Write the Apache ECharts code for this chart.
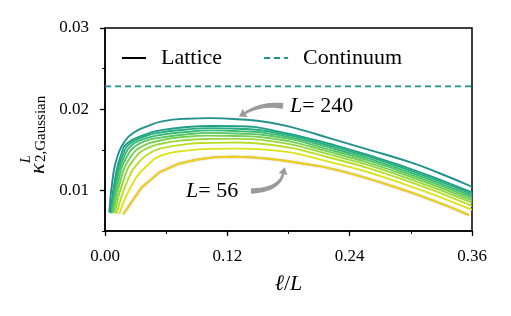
<!DOCTYPE html>
<html>
<head>
<meta charset="utf-8">
<script src="https://cdn.jsdelivr.net/npm/echarts@6/dist/echarts.min.js"></script>
<style>
  html, body { margin: 0; padding: 0; background: #fff; }
  #chart { width: 511px; height: 316px; }
</style>
</head>
<body>
<div id="chart"></div>
<script>
// kappa_2,Gaussian^L vs l/L, one array per lattice size, [l/L, value]
var kappaL56 = [[0.0179,0.00706],[0.0357,0.01033],[0.0536,0.01225],[0.0714,0.01325],[0.0893,0.01378],
    [0.1071,0.01408],[0.125,0.01415],[0.1429,0.01408],[0.1607,0.0139],[0.1786,0.01362],[0.1964,0.01325],
    [0.2143,0.0129],[0.2321,0.01238],[0.25,0.01175],[0.2679,0.01108],[0.2857,0.01036],[0.3036,0.0096],
    [0.3214,0.00878],[0.3393,0.0079],[0.3571,0.00695]];
var kappaL72 = [[0.0139,0.0071],[0.0278,0.0110],[0.0417,0.0131],[0.0556,0.0143],[0.08,0.0149],[0.103,0.01512],
    [0.13,0.01515],[0.16,0.01499],[0.22,0.01352],[0.29,0.01092],[0.36,0.0076]];
var kappaL88 = [[0.0114,0.0071],[0.0227,0.0114],[0.0341,0.0136],[0.0455,0.0147],[0.054,0.01515],[0.08,0.0157],
    [0.103,0.01585],[0.13,0.0159],[0.16,0.01566],[0.22,0.01405],[0.29,0.01144],[0.36,0.0081]];
var kappaL104 = [[0.0096,0.0072],[0.0192,0.0117],[0.0288,0.0139],[0.0385,0.0150],[0.054,0.01572],[0.08,0.0162],
    [0.103,0.01634],[0.13,0.01635],[0.16,0.0161],[0.22,0.01443],[0.29,0.0118],[0.36,0.00848]];
var kappaL120 = [[0.0083,0.0072],[0.0167,0.0119],[0.025,0.0141],[0.0333,0.0152],[0.054,0.01615],[0.08,0.0166],
    [0.103,0.01674],[0.13,0.0167],[0.16,0.01645],[0.22,0.01475],[0.29,0.01211],[0.36,0.00878]];
var kappaL136 = [[0.0074,0.0072],[0.0147,0.0120],[0.0221,0.0143],[0.0294,0.0154],[0.04,0.0161],[0.054,0.0165],
    [0.08,0.0169],[0.103,0.01708],[0.13,0.0170],[0.16,0.01676],[0.22,0.01503],[0.29,0.01238],[0.36,0.00905]];
var kappaL152 = [[0.0066,0.0072],[0.0132,0.0121],[0.0197,0.0144],[0.0263,0.0156],[0.04,0.0164],[0.054,0.01682],
    [0.08,0.0172],[0.103,0.01739],[0.13,0.0173],[0.16,0.01703],[0.22,0.01529],[0.29,0.01263],[0.36,0.0093]];
var kappaL168 = [[0.006,0.0072],[0.0119,0.0121],[0.0179,0.0145],[0.0238,0.0157],[0.04,0.0167],[0.054,0.01712],
    [0.08,0.0175],[0.103,0.01767],[0.13,0.0176],[0.16,0.01729],[0.22,0.01553],[0.29,0.01286],[0.36,0.00953]];
var kappaL184 = [[0.0054,0.0072],[0.0109,0.0122],[0.0163,0.0146],[0.0217,0.0158],[0.04,0.0169],[0.054,0.01739],
    [0.08,0.0178],[0.103,0.01793],[0.13,0.0179],[0.16,0.01752],[0.22,0.01575],[0.29,0.01308],[0.36,0.00975]];
var kappaL240 = [[0.0042,0.0073],[0.0083,0.0122],[0.0125,0.0143],[0.0186,0.01589],[0.0284,0.01712],[0.0412,0.01789],
    [0.0559,0.0185],[0.08,0.01883],[0.103,0.0189],[0.13,0.01877],[0.16,0.0184],[0.19,0.01755],[0.22,0.01644],
    [0.26,0.01497],[0.30,0.01344],[0.33,0.01202],[0.36,0.01045]];
var continuum = 0.0228;

var sizes = [56, 72, 88, 104, 120, 136, 152, 168, 184, 240];
var curves = [kappaL56, kappaL72, kappaL88, kappaL104, kappaL120, kappaL136, kappaL152, kappaL168, kappaL184, kappaL240];
var yTicks = [0.01, 0.02, 0.03];
var yMinorTicks = [0.005, 0.015, 0.025];

var palette = ['#ecd01a','#dde318','#bade28','#98d83e','#75d054','#56c667','#3bbb75','#28ae80','#1fa088','#21918c'];
var serif = '"Liberation Serif", "DejaVu Serif", serif';

// thick tapering arrow, like matplotlib's "simple" arrowstyle
function arrow(p0, c, p1, w0, w1, headW, headL) {
    var left = [], right = [], n = 16;
    function pt(t) {
        var a = 1 - t;
        return [a*a*p0[0] + 2*a*t*c[0] + t*t*p1[0], a*a*p0[1] + 2*a*t*c[1] + t*t*p1[1]];
    }
    function tan(t) {
        var dx = 2*(1-t)*(c[0]-p0[0]) + 2*t*(p1[0]-c[0]);
        var dy = 2*(1-t)*(c[1]-p0[1]) + 2*t*(p1[1]-c[1]);
        var l = Math.sqrt(dx*dx + dy*dy);
        return [dx/l, dy/l];
    }
    for (var i = 0; i <= n; i++) {
        var t = i / n, p = pt(t), d = tan(t), w = (w0 + (w1 - w0) * t) / 2;
        left.push([p[0] - d[1]*w, p[1] + d[0]*w]);
        right.push([p[0] + d[1]*w, p[1] - d[0]*w]);
    }
    var d1 = tan(1);
    var pts = left.slice();
    pts.push([p1[0] - d1[1]*headW, p1[1] + d1[0]*headW]);
    pts.push([p1[0] + d1[0]*headL, p1[1] + d1[1]*headL]);
    pts.push([p1[0] + d1[1]*headW, p1[1] - d1[0]*headW]);
    pts = pts.concat(right.reverse());
    return { type: 'polygon', shape: { points: pts }, style: { fill: '#9a9a9a' }, z: 100 };
}

var series = [{
    name: 'Lattice', type: 'line', data: [], symbol: 'none',
    lineStyle: { color: '#000', width: 1.8 }, itemStyle: { color: '#000' }
}, {
    name: 'Continuum', type: 'line', symbol: 'none',
    data: [[0, continuum], [0.36, continuum]],
    lineStyle: { color: '#21918c', width: 1.7, type: [6, 4] }, itemStyle: { color: '#21918c' }, z: 3
}];
curves.forEach(function (c, i) {
    series.push({
        name: 'L' + sizes[i], type: 'line', data: c, symbol: 'none', showSymbol: false,
        smooth: i === 0 ? false : 0.5,
        lineStyle: i === 0
            ? { color: palette[i], width: 1.9, shadowColor: 'rgba(120,95,0,0.55)', shadowBlur: 1.5 }
            : { color: palette[i], width: 1.9 },
        z: 2 + (9 - i) * 0.01
    });
});

var myChart = echarts.init(document.getElementById('chart'));
var option = {
    animation: false,
    grid: { left: 105, right: 39, top: 28, bottom: 85, show: true, borderColor: '#000', borderWidth: 1.5 },
    legend: {
        data: ['Lattice', 'Continuum'],
        left: 116, top: 42, itemWidth: 24, itemHeight: 10, itemGap: 41,
        itemStyle: { opacity: 0 },
        textStyle: { fontFamily: serif, fontSize: 22, color: '#000', padding: [0, 0, 0, 10] }
    },
    xAxis: {
        type: 'value', min: 0, max: 0.36, interval: 0.12,
        name: '{i|ℓ}/{i|L}', nameLocation: 'middle', nameGap: 42,
        nameTextStyle: { fontFamily: serif, fontSize: 22, color: '#000', rich: { i: { fontFamily: serif, fontSize: 22, fontStyle: 'italic' } } },
        axisLine: { show: true, lineStyle: { color: '#000', width: 1.5 } },
        axisTick: { show: true, length: 5, lineStyle: { color: '#000', width: 1.3 } },
        minorTick: { show: true, splitNumber: 2, length: 3, lineStyle: { color: '#000', width: 1 } },
        axisLabel: { fontFamily: serif, fontSize: 17, color: '#000', margin: 17,
            formatter: function (v) { return v.toFixed(2); } },
        splitLine: { show: false }
    },
    yAxis: [{
        type: 'value', min: 0.005, max: 0.03,
        axisLine: { show: true, lineStyle: { color: '#000', width: 1.5 } },
        axisTick: { show: true, length: 5, customValues: yTicks, lineStyle: { color: '#000', width: 1.3 } },
        axisLabel: { fontFamily: serif, fontSize: 17, color: '#000', margin: 16, customValues: yTicks,
            formatter: function (v) { return v.toFixed(2); } },
        splitLine: { show: false }
    }, {
        type: 'value', min: 0.005, max: 0.03, position: 'left',
        axisLine: { show: false },
        axisTick: { show: true, length: 3, customValues: yMinorTicks, lineStyle: { color: '#000', width: 1 } },
        axisLabel: { show: false, customValues: yMinorTicks },
        splitLine: { show: false }
    }],
    series: series,
    graphic: [
        {
            type: 'text', z: 100,
            style: { text: '{i|L}= 240', x: 290, y: 106, verticalAlign: 'middle', fontFamily: serif, fontSize: 22, fill: '#000',
                rich: { i: { fontFamily: serif, fontSize: 22, fontStyle: 'italic' } } }
        },
        {
            type: 'text', z: 100,
            style: { text: '{i|L}= 56', x: 186, y: 191, verticalAlign: 'middle', fontFamily: serif, fontSize: 22, fill: '#000',
                rich: { i: { fontFamily: serif, fontSize: 22, fontStyle: 'italic' } } }
        },
        arrow([283, 106], [262, 103], [245, 113], 6, 2.5, 4.5, 7),
        arrow([251, 191], [279, 190], [283, 174], 5.5, 2.5, 4.5, 7),
        {
            type: 'group', x: 38, y: 174, rotation: Math.PI / 2, z: 100,
            children: [
                { type: 'text', style: { text: 'κ', x: 0, y: 0, verticalAlign: 'middle', fontFamily: serif, fontSize: 22, fontStyle: 'italic', fill: '#000' } },
                { type: 'text', style: { text: 'L', x: 11, y: -12, verticalAlign: 'middle', fontFamily: serif, fontSize: 14, fontStyle: 'italic', fill: '#000' } },
                { type: 'text', style: { text: '2,Gaussian', x: 12, y: 3, verticalAlign: 'middle', fontFamily: serif, fontSize: 15, fill: '#000' } }
            ]
        }
    ]
};
myChart.setOption(option);
window.addEventListener('resize', function () { myChart.resize(); });
</script>
</body>
</html>
